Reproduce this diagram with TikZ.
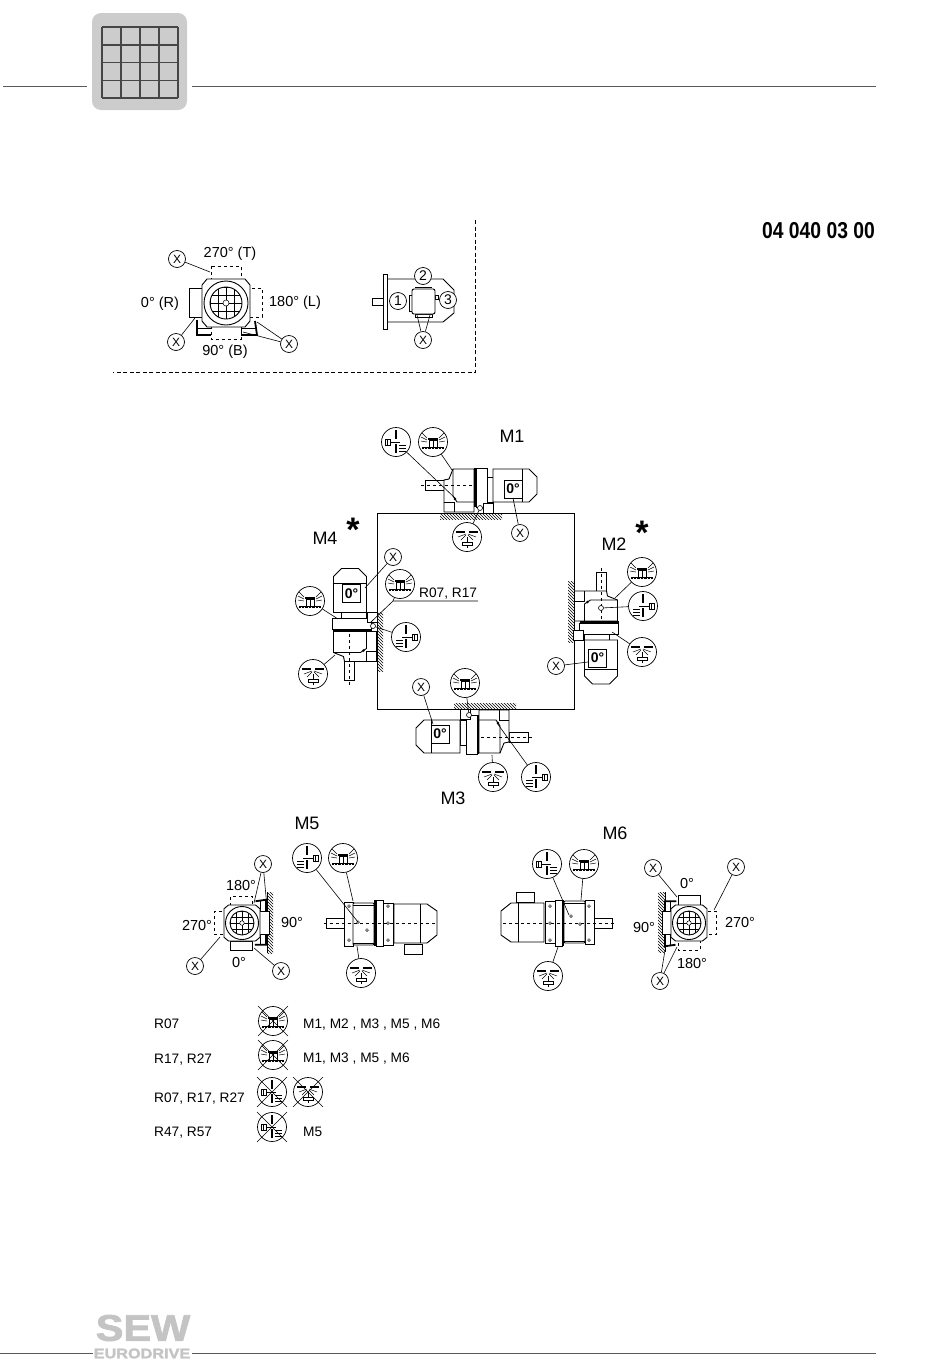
\documentclass[tikz,border=0pt]{standalone}
\usepackage{fontspec}
\setmainfont{Liberation Sans}
\newfontfamily\logofont{Liberation Sans}[BoldFeatures={FakeBold=2}]
\usetikzlibrary{patterns}
\definecolor{lgray}{RGB}{204, 204, 204}
\definecolor{logogray}{RGB}{196, 196, 196}
\definecolor{dgray}{RGB}{70, 70, 70}
\definecolor{rulegray}{RGB}{90, 90, 90}
\tikzset{
	geo/.style = {line width = 0.9pt, black},
	fine/.style = {line width = 0.5pt, black},
	heavy/.style = {line width = 1.8pt, black},
	leader/.style = {line width = 0.6pt, black},
	symc/.style = {circle, draw, line width = 0.7pt, fill = white, minimum size = 29pt, inner sep = 0pt},
	xc/.style = {circle, draw, line width = 0.7pt, fill = white, minimum size = 17pt, inner sep = 0pt, font = \fontsize{12}{12}\selectfont},
	numc/.style = {circle, draw, line width = 0.7pt, fill = white, minimum size = 17pt, inner sep = 0pt, font = \fontsize{14}{14}\selectfont},
	plug/.style = {circle, draw, line width = 0.6pt, fill = white, minimum size = 5pt, inner sep = 0pt},
	deg/.style = {rectangle, draw, line width = 0.9pt, fill = white, minimum width = 18pt, minimum height = 18pt, inner sep = 0pt, font = \bfseries\fontsize{14}{14}\selectfont},
	lab/.style = {inner sep = 0pt, font = \fontsize{14.5}{16}\selectfont},
	tab/.style = {inner sep = 0pt, anchor = base west, font = \fontsize{13.7}{15}\selectfont},
	mlab/.style = {inner sep = 0pt, font = \fontsize{18}{20}\selectfont},
	star/.style = {inner sep = 0pt, font = \bfseries\fontsize{34}{34}\selectfont},
	wall/.style = {pattern = north west lines, draw = none},
	pics/ventsym/.style = {code = {
		\draw[line width = 1pt] (-11,5) -- (11,5);
		\draw[line width = 1.6pt, dash pattern = on 0.7pt off 0.7pt] (-11,6.6) -- (11,6.6);
		\draw[geo] (-4,5) -- (-4,-2) -- (4,-2) -- (4,5);
		\draw[fine] (0,-2) -- (0,5);
		\draw[line width = 1.2pt] (-5,-3) -- (5,-3);
		\foreach \s in {-1,1} {
			\draw[fine] (\s*6,-4) -- (\s*11,-9);
			\draw[fine] (\s*6,-2) -- (\s*12,-5);
			\draw[fine] (\s*6,0) -- (\s*12,-1);
		}
	}},
	pics/drainsym/.style = {code = {
		\draw[line width = 1.5pt] (-11,-5) -- (-2,-5);
		\draw[line width = 1.5pt] (2,-5) -- (11,-5);
		\foreach \s in {-1,1} {
			\draw[fine] (\s*1,-3) -- (\s*9,0);
			\draw[fine] (\s*1,-2) -- (\s*6,3);
		}
		\draw[geo] (0,0) -- (0,5);
		\draw[geo] (-5,5) rectangle (5,8);
		\draw[geo] (0,8) -- (0,11);
	}},
	pics/levelsym/.style = {code = {
		\draw[line width = 2pt, dash pattern = on 1.6pt off 0.4pt] (0,-12) -- (0,-3);
		\draw[geo] (-4,0) -- (4,0);
		\draw[line width = 2.6pt, dash pattern = on 1.6pt off 0.4pt] (0,2) -- (0,11);
		\foreach \h in {3,6,9} {
			\draw[fine] (3,\h) -- (10,\h);
		}
		\draw[geo] (-11,-3) rectangle (-6,3);
		\draw[geo] (-8.5,-3) -- (-8.5,3);
		\draw[geo] (-6,0) -- (-3,0);
	}},
	pics/crossmark/.style = {code = {
		\draw[fine] (-15,-15) -- (15,15);
		\draw[fine] (-15,15) -- (15,-15);
	}},
	% seen from the side, feet down
	pics/gearfoot/.style = {code = {
		\draw[geo] (-50,-5) rectangle (-31,5);
		\draw[geo, fill = white] (-22,-16) -- (-1,-16) -- (-1,27) -- (-31,27) -- (-31,-5) -- (-26,-6) -- cycle;
		\draw[geo] (-22,-16) -- (-22,11) -- (-18,17) -- (-1,17);
		\draw[geo] (-31,17) -- (-21,17) -- (-21,27);
		\draw[geo, fill = white] (1,-17) rectangle (12,22);
		\draw[geo, fill = white] (12,-8) rectangle (18,17);
		\draw[geo, fill = white] (8,18) rectangle (18,28);
		\draw[geo, fill = white] (18,-16) -- (54,-16) -- (62,-8) -- (62,9) -- (54,17) -- (18,17) -- cycle;
		\draw[geo] (47,-16) -- (47,17);
		\draw[heavy] (0,-17) -- (0,22);
		\draw[geo, dashed] (-54,0) -- (0,0);
		\fill (-20,14) circle (1.4);
	}},
	% seen from the side, no feet, terminal box below
	pics/gearflange/.style = {code = {
		\draw[geo] (-49,-5) rectangle (-31,5);
		\draw[geo, fill = white] (-31,-21) rectangle (-22,23);
		\draw[geo, fill = white, rounded corners = 1pt] (-22,-20) rectangle (-1,22);
		\draw[geo] (-22,-18) -- (-1,-18);
		\draw[geo] (-22,20) -- (-1,20);
		\draw[geo, fill = white] (1,-23) rectangle (8,23);
		\draw[geo, fill = white] (8,-20) rectangle (18,22);
		\draw[geo, fill = white] (19,-19) -- (52,-19) -- (62,-12) -- (62,12) -- (52,20) -- (19,20) -- cycle;
		\draw[geo] (45,-19) -- (45,20);
		\draw[geo, fill = white] (29,21) rectangle (47,31);
		\draw[heavy] (0,-23) -- (0,23);
		\draw[geo, dashed] (-51,0) -- (60,0);
		\foreach \a/\b in {-26/-17, -26/17, 13/-17, 13/0, 13/17, -17/-1, -8/7} {
			\draw[fine, fill = white] (\a,\b) circle (1.4);
		}
	}},
	% seen from the end, feet down; the argument is the style of the lower box
	pics/endview/.style = {code = {
		\draw[heavy] (-29,17) -- (-29,32) -- (31,32) -- (29,18);
		\draw[geo] (-29,25) rectangle (-15,32);
		\draw[geo] (15,25) rectangle (30,32);
		\draw[geo, fill = white, dashed] (-15,-37) rectangle (15,-23);
		\draw[geo, fill = white] (-37,-15) rectangle (-24,14);
		\draw[geo, fill = white, dashed] (23,-15) rectangle (36,14);
		\draw[geo, fill = white, #1] (-15,23) rectangle (15,36);
		\draw[geo, fill = white] (-24,-18) -- (-19,-24) -- (19,-24) -- (24,-18) -- (24,18) -- (19,24) -- (-19,24) -- (-24,18) -- cycle;
		\draw[geo] (0,0) circle (22);
		\draw[geo] (0,0) circle (16);
		\begin{scope}
			\clip (0,0) circle (16);
			\foreach \g in {-16,-8,0,8,16} {
				\draw[fine] (\g,-16) -- (\g,16);
				\draw[fine] (-16,\g) -- (16,\g);
			}
		\end{scope}
		\draw[fine, fill = white] (0,0) circle (3);
	}}
}
\begin{document}
\begin{tikzpicture}[x = 1pt, y = -1pt]
	\useasboundingbox (0,0) rectangle (950,1360);

	% page head
	\draw[rulegray, line width = 0.9pt] (3,86) -- (87,86);
	\draw[rulegray, line width = 0.9pt] (192,86) -- (876,86);
	\node (tab) at (139.5,61.5) [rectangle, rounded corners = 9pt, fill = lgray, minimum width = 95pt, minimum height = 97pt] {};
	\foreach \g in {0,1,2,3,4} {
		\draw[dgray, line width = 1.5pt] (102+19*\g,27) -- (102+19*\g,98);
		\draw[dgray, line width = 1.5pt] (102,27+17.75*\g) -- (178,27+17.75*\g);
	}
	\node (code) at (818.5,230.5) [inner sep = 0pt, xscale = 0.84, font = \bfseries\fontsize{23}{23}\selectfont] {04 040 03 00};

	% dashed frame
	\coordinate (fa) at (475.5,220);
	\coordinate (fb) at (475.5,372);
	\coordinate (fc) at (113,372);
	\draw[line width = 0.7pt, dash pattern = on 4pt off 2.5pt] (fa) -- (fb) -- (fc);

	% end view in the frame
	\pic at (226,303) {endview = dashed};
	\node[lab] (tlt) at (230,254) {270° (T)};
	\node[lab] (tll) at (160,304) {0° (R)};
	\node[lab] (tlr) at (295,303) {180° (L)};
	\node[lab] (tlb) at (225,352) {90° (B)};
	\node[xc] (xa) at (177,259) {X};
	\node[xc] (xb) at (176,342) {X};
	\node[xc] (xc) at (289,344) {X};
	\coordinate (xat) at (210,272);
	\coordinate (xbt) at (195,318);
	\coordinate (xct) at (257,322);
	\coordinate (xcu) at (243,332);
	\draw[leader] (xa) -- (xat);
	\draw[leader] (xb) -- (xbt);
	\draw[leader] (xc) -- (xct);
	\draw[leader] (xc) -- (xcu);

	% side view in the frame
	\draw[geo] (372,298) rectangle (383,305);
	\draw[geo] (383,274) rectangle (387,329);
	\draw[geo] (387,279) -- (443,279) -- (454,290) -- (454,313) -- (443,322) -- (387,322);
	\draw[geo, fill = white] (415,287) -- (432,287);
	\draw[geo, fill = white] (415,314) rectangle (432,317);
	\draw[geo, fill = white] (409,295) rectangle (412,311);
	\draw[geo, fill = white] (435,295) rectangle (438,299);
	\draw[geo, fill = white, rounded corners = 2pt] (412,289) rectangle (435,314);
	\node[numc] (na) at (398,301) {1};
	\node[numc] (nb) at (423,276) {2};
	\node[numc] (nc) at (448,300) {3};
	\node[xc] (xd) at (423,340) {X};
	\coordinate (xdt) at (417,315);
	\coordinate (xdu) at (430,315);
	\draw[leader] (xd) -- (xdt);
	\draw[leader] (xd) -- (xdu);

	% mounting square
	\node (sq) at (475.5,611) [rectangle, draw, line width = 0.9pt, minimum width = 197pt, minimum height = 196pt] {};
	\fill[wall] (440,514) rectangle (502,519);
	\fill[wall] (568,581) rectangle (574,642);
	\fill[wall] (454,703) rectangle (516,709);
	\fill[wall] (377,612) rectangle (383,671);

	% M1
	\pic at (475,485) {gearfoot};
	\node[deg] (da) at (513,489) {0°};
	\node[plug] (pa) at (480,508) {};
	\node[mlab] (ma) at (512,436) {M1};
	\node[symc] (la) at (396,442) {};
	\pic at (la) {levelsym};
	\node[symc] (va) at (433,442) {};
	\pic at (va) {ventsym};
	\node[symc] (oa) at (467,537) {};
	\pic at (oa) {drainsym};
	\node[xc] (xe) at (520,533) {X};
	\coordinate (lat) at (456,499);
	\coordinate (vat) at (452,470);
	\coordinate (xet) at (513,498);
	\draw[leader] (la) -- (lat);
	\draw[leader] (va) -- (vat);
	\draw[leader] (oa) -- (pa);
	\draw[leader] (xe) -- (xet);

	% M2
	\pic[rotate = -90] at (601.5,622) {gearfoot};
	\node[deg] (db) at (597.5,658) {0°};
	\node[plug] (pb) at (601,608) {};
	\node[mlab] (mb) at (614,544) {M2};
	\node[star] (sb) at (642,533) {*};
	\node[symc] (vb) at (642,572) {};
	\pic at (vb) {ventsym};
	\node[symc] (lb) at (643,606) {};
	\pic[xscale = -1] at (lb) {levelsym};
	\node[symc] (ob) at (642,652) {};
	\pic at (ob) {drainsym};
	\node[xc] (xf) at (556,666) {X};
	\coordinate (vbt) at (615,598);
	\coordinate (obt) at (612,632);
	\coordinate (xft) at (588,662);
	\draw[leader] (vb) -- (vbt);
	\draw[leader] (lb) -- (pb);
	\draw[leader] (ob) -- (obt);
	\draw[leader] (xf) -- (xft);

	% M3
	\pic[rotate = 180] at (478,737) {gearfoot};
	\node[deg] (dc) at (440,734) {0°};
	\node[plug] (pc) at (469,715) {};
	\node[mlab] (mc) at (453,798) {M3};
	\node[xc] (xg) at (421,687) {X};
	\node[symc] (vc) at (465,683) {};
	\pic at (vc) {ventsym};
	\node[symc] (oc) at (493,777) {};
	\pic at (oc) {drainsym};
	\node[symc] (lc) at (536,777) {};
	\pic[xscale = -1] at (lc) {levelsym};
	\coordinate (xgt) at (433,724);
	\coordinate (oct) at (492,755);
	\coordinate (lct) at (497,723);
	\draw[leader] (xg) -- (xgt);
	\draw[leader] (vc) -- (pc);
	\draw[leader] (oc) -- (oct);
	\draw[leader] (lc) -- (lct);

	% M4
	\pic[rotate = 90] at (349.5,630.5) {gearfoot};
	\node[deg] (dd) at (351.5,593.5) {0°};
	\node[plug] (pd) at (373,626) {};
	\node[mlab] (md) at (325,538) {M4};
	\node[star] (sd) at (353,530) {*};
	\node[xc] (xh) at (393,557) {X};
	\node[symc] (vd) at (400,584) {};
	\pic at (vd) {ventsym};
	\node[symc] (ve) at (310,601) {};
	\pic at (ve) {ventsym};
	\node[symc] (od) at (313,674) {};
	\pic at (od) {drainsym};
	\node[symc] (ld) at (406,637) {};
	\pic[xscale = -1] at (ld) {levelsym};
	\node[tab] (rs) at (419,597) {R07, R17};
	\coordinate (rr) at (478,601);
	\coordinate (rl) at (393,601);
	\coordinate (rt) at (370,623);
	\coordinate (xht) at (365,588);
	\coordinate (vet) at (338,619);
	\coordinate (odt) at (335,655);
	\draw[leader] (rr) -- (rl) -- (rt);
	\draw[leader] (vd) -- (rl);
	\draw[leader] (xh) -- (xht);
	\draw[leader] (ve) -- (vet);
	\draw[leader] (od) -- (odt);
	\draw[leader] (ld) -- (pd);

	% M5
	\node[mlab] (me) at (307,823) {M5};
	\fill[wall] (267,892) rectangle (273,953);
	\draw[leader] (267,892) -- (267,953);
	\pic[rotate = 90, scale = 0.75] at (242,923) {endview = solid};
	\node[lab] (ea) at (241,885) {180°};
	\node[lab] (eb) at (197,925) {270°};
	\node[lab] (ec) at (292,922) {90°};
	\node[lab] (ed) at (239,962) {0°};
	\node[xc] (xi) at (263,864) {X};
	\node[xc] (xj) at (195,966) {X};
	\node[xc] (xk) at (281,971) {X};
	\coordinate (xit) at (254,903);
	\coordinate (xiu) at (267,907);
	\coordinate (xjt) at (220,937);
	\coordinate (xkt) at (254,948);
	\draw[leader] (xi) -- (xit);
	\draw[leader] (xi) -- (xiu);
	\draw[leader] (xj) -- (xjt);
	\draw[leader] (xk) -- (xkt);
	\pic at (375,923) {gearflange};
	\node[symc] (le) at (307,858) {};
	\pic[xscale = -1] at (le) {levelsym};
	\node[symc] (vf) at (343,858) {};
	\pic at (vf) {ventsym};
	\node[symc] (oe) at (361,973) {};
	\pic at (oe) {drainsym};
	\coordinate (let) at (358,922);
	\coordinate (vft) at (353,901);
	\coordinate (oet) at (357,946);
	\draw[leader] (le) -- (let);
	\draw[leader] (vf) -- (vft);
	\draw[leader] (oe) -- (oet);

	% M6
	\node[mlab] (mf) at (615,833) {M6};
	\pic[rotate = 180] at (563,923) {gearflange};
	\node[symc] (lf) at (547,864) {};
	\pic at (lf) {levelsym};
	\node[symc] (vg) at (584,864) {};
	\pic at (vg) {ventsym};
	\node[symc] (of) at (548,976) {};
	\pic at (of) {drainsym};
	\coordinate (lft) at (569,915);
	\coordinate (vgt) at (581,900);
	\coordinate (oft) at (558,947);
	\draw[leader] (lf) -- (lft);
	\draw[leader] (vg) -- (vgt);
	\draw[leader] (of) -- (oft);
	\fill[wall] (658,892) rectangle (665,952);
	\draw[leader] (665,892) -- (665,952);
	\pic[rotate = -90, scale = 0.75] at (689,923) {endview = solid};
	\node[lab] (fa) at (687,883) {0°};
	\node[lab] (fb) at (740,922) {270°};
	\node[lab] (fc) at (644,927) {90°};
	\node[lab] (fd) at (692,963) {180°};
	\node[xc] (xl) at (653,868) {X};
	\node[xc] (xm) at (736,867) {X};
	\node[xc] (xn) at (660,981) {X};
	\coordinate (xlt) at (677,897);
	\coordinate (xmt) at (714,910);
	\coordinate (xnt) at (665,950);
	\coordinate (xnu) at (677,947);
	\draw[leader] (xl) -- (xlt);
	\draw[leader] (xm) -- (xmt);
	\draw[leader] (xn) -- (xnt);
	\draw[leader] (xn) -- (xnu);

	% table
	\node[tab] (ra) at (154,1028) {R07};
	\node[tab] (rb) at (154,1063) {R17, R27};
	\node[tab] (rc) at (154,1102) {R07, R17, R27};
	\node[tab] (rd) at (154,1136) {R47, R57};
	\node[tab] (ta) at (303,1028) {M1, M2 , M3 , M5 , M6};
	\node[tab] (tb) at (303,1062) {M1, M3 , M5 , M6};
	\node[tab] (td) at (303,1136) {M5};
	\node[symc] (ca) at (273,1021) {};
	\pic at (ca) {ventsym};
	\pic at (ca) {crossmark};
	\node[symc] (cb) at (273,1055) {};
	\pic at (cb) {ventsym};
	\pic at (cb) {crossmark};
	\node[symc] (cc) at (272,1092) {};
	\pic at (cc) {levelsym};
	\pic at (cc) {crossmark};
	\node[symc] (cd) at (308,1092) {};
	\pic at (cd) {drainsym};
	\pic at (cd) {crossmark};
	\node[symc] (ce) at (272,1127) {};
	\pic at (ce) {levelsym};
	\pic at (ce) {crossmark};

	% page foot
	\draw[rulegray, line width = 0.9pt] (0,1353) -- (93,1353);
	\draw[rulegray, line width = 0.9pt] (192,1353) -- (876,1353);
	\node (sew) at (143,1328) [inner sep = 0pt, xscale = 1.12, logogray, font = \logofont\bfseries\fontsize{37}{37}\selectfont] {SEW};
	\node (euro) at (142,1353.5) [inner sep = 0pt, xscale = 1.16, logogray, font = \logofont\bfseries\fontsize{14}{14}\selectfont] {EURODRIVE};
\end{tikzpicture}
\end{document}
